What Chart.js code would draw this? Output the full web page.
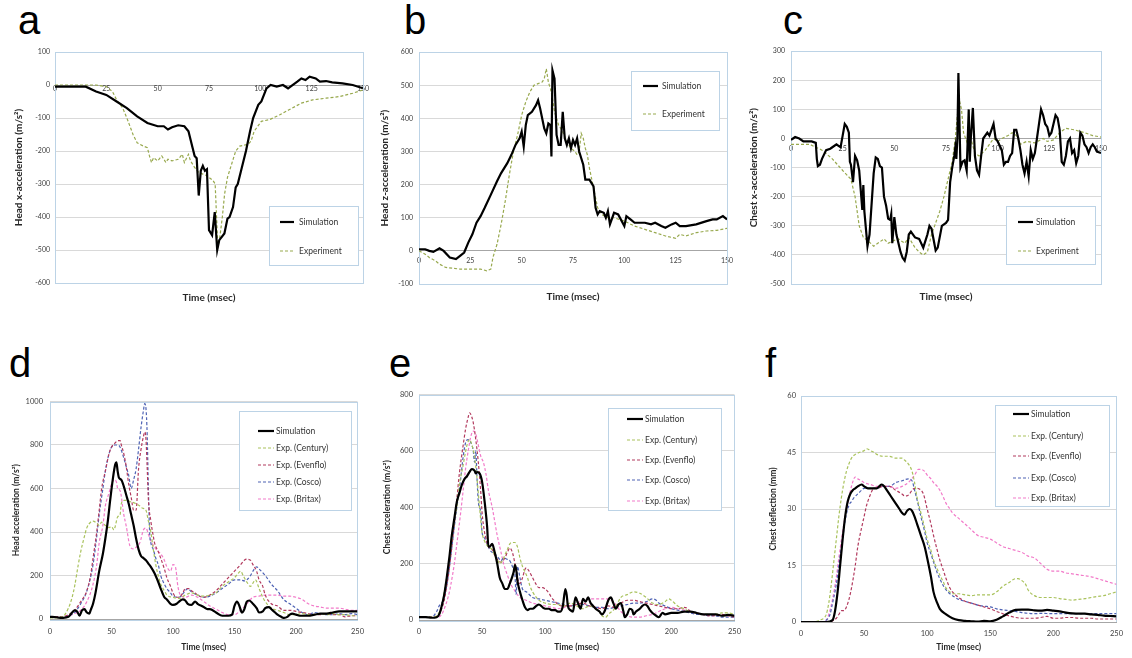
<!DOCTYPE html>
<html>
<head>
<meta charset="utf-8">
<script src="https://cdn.jsdelivr.net/npm/chart.js@4.4.0/dist/chart.umd.min.js"></script>
<style>
  body { margin: 0; background: #fff; width: 1132px; height: 658px; position: relative; overflow: hidden; }
  canvas { position: absolute; }
  .tag { position: absolute; font: 40px "Liberation Sans", Arial, sans-serif; line-height: 40px; color: #000; }
</style>
</head>
<body>
<div class="tag" style="left:18px;top:0px">a</div>
<div class="tag" style="left:404px;top:0px">b</div>
<div class="tag" style="left:783px;top:0px">c</div>
<div class="tag" style="left:9px;top:343px">d</div>
<div class="tag" style="left:389px;top:343px">e</div>
<div class="tag" style="left:765px;top:343px">f</div>
<canvas id="pa"></canvas>
<canvas id="pb"></canvas>
<canvas id="pc"></canvas>
<canvas id="pd"></canvas>
<canvas id="pe"></canvas>
<canvas id="pf"></canvas>
<script>
// ---- a: head x-acceleration ----
const aSimT = [0,5,10,15,20,25,30,35,40,45, 50,53,55,57,60,63,65,67,68,69, 70,71,72,73,74,75,76.5,77.8,79,80, 82.5,84,85,86.7,88,89,91,93,95,96.5, 99,100.5,103,105,108,111,113.5,118,120,122, 124,127,129,132,135,140,145,150];
const aSimV = [-5,-5,-5,-5,-20,-30,-50,-70,-95,-115, -125,-125,-135,-128,-122,-125,-140,-190,-215,-222, -335,-260,-245,-260,-255,-440,-455,-385,-500,-470, -450,-405,-400,-370,-310,-300,-250,-200,-140,-100, -60,-50,-10,0,-5,0,-10,10,20,15, 25,20,10,12,8,5,0,-10];
const aExpT = [0,10,20,25,28,30,33,35,38,40, 43,45,46,47,48,50,52,54,55,57, 60,62,63,65,66,68,70,72,74,76, 77,78,79.3,80,81.5,82.6,84,86,88,90, 94,95.5,97,100.5,104.5,109.5,114,120,125.5,132, 138.5,145,150];
const aExpV = [0,0,0,-5,-20,-45,-70,-100,-150,-175, -185,-190,-215,-235,-220,-230,-215,-235,-225,-230, -225,-210,-235,-210,-230,-250,-265,-270,-275,-285, -290,-300,-490,-475,-400,-330,-280,-240,-200,-185, -180,-170,-140,-110,-105,-90,-75,-55,-45,-40, -35,-25,-15];

// ---- b: head z-acceleration ----
const bSimT = [0,3,5,7,10,12,15,18,20,22, 24,26,28,30,32,35,38,40,43,45, 47,49,50,51,52,53,55,57,58,59, 61,62,63,64,64.5,65,66,67,68,69, 70,71,72,73,74,75,76,77,78,80, 81,83,85,86,87,88,90,91,92,93, 95,97,100,101,103,105,110,113,115,118, 120,123,125,127,130,135,140,143,145,148, 150];
const bSimV = [5,5,0,-3,8,0,-20,-25,-15,-5, 25,50,85,105,130,170,210,235,265,290, 320,340,360,315,380,410,420,440,455,430, 370,355,385,380,285,545,520,350,320,320, 420,340,320,340,310,335,320,340,300,260, 215,215,195,130,110,120,115,100,120,80, 115,110,75,105,95,85,85,80,85,75, 70,80,85,75,75,80,90,95,95,105, 95];
const bExpT = [0,3,5,8,10,13,20,30,33,35, 36,37,38,39,40,42,44,46,48,50, 52,54,56,58,60,61,62,63,64,65, 66,67,68,70,72,74,76,77,78,79, 80,81,82,83,85,87,89,92,95,100, 105,110,115,120,125,127,130,135,140,145, 150];
const bExpV = [0,-10,-20,-30,-40,-50,-55,-55,-60,-55, -20,0,20,50,80,150,230,300,350,410, 450,480,500,505,510,520,550,510,490,460, 420,400,380,360,330,310,300,290,300,355, 340,310,290,250,190,130,110,100,100,90, 75,65,55,45,38,50,45,55,60,62, 68];

// ---- c: chest x-acceleration ----
const cSimT = [0,1,2,4,6,10,12,12.5,13,14, 15,17,19,20,22,23,24,25,26,27, 28,28.5,29,30,31,32,33,34,34.5,35, 35.5,37,38,40,41,42,43,44,45,46, 47,48,48.5,49,50,51,52,53,54,55, 56,57,58,60,62,64,66,67,68,70, 71,73,75,76,77,78,79,79.5,80,80.5, 81,82,83,84,85,86,86.5,87,88,89, 90,91,92,93,95,96,97,98,99,100, 102,103,104,105,106,107,108,109,110,111, 112,113,114,115,116,117,118,119,120,121, 122,123,124,125,126,127,128,129,130,131, 132,133,134,135,136,137,138,139,140,141, 142,143,144,145,146,147,148,150];
const cSimV = [-5,0,5,0,-10,-10,-15,-70,-95,-90, -70,-40,-35,-30,-20,-25,-30,10,50,40, 20,-80,-90,-150,-60,-75,-110,-200,-245,-160, -250,-370,-330,-120,-65,-70,-95,-100,-200,-230, -275,-280,-260,-360,-270,-330,-360,-390,-410,-420, -390,-330,-320,-340,-345,-375,-330,-300,-310,-385, -375,-300,-290,-280,-150,-100,-60,-30,-70,0, 225,-100,-80,-75,-110,100,-80,0,105,-60, -110,-125,-60,0,20,10,30,50,0,-10, -40,-90,-80,-80,-60,-50,30,30,0,-40, -90,-120,-80,-130,-40,-70,-50,0,50,100, 80,50,40,10,20,50,80,70,30,-80, -90,-60,-10,0,-50,-40,-85,-60,20,10, -20,-30,-50,-30,-20,-30,-45,-50];
const cExpT = [0,9,15,20,25,29,31,33,35,37, 40,42,45,47,50,52,55,57,60,62, 64,66,68,70,72,74,76,78,79.5,80.5, 81.5,82.5,83.5,85,86,87,89,91,94,96, 98,100,102,105,107,109,111,114,118,122, 124,127,130,133,137,142,146,150];
const cExpV = [-20,-20,-40,-70,-110,-140,-200,-300,-340,-350, -370,-360,-345,-360,-350,-345,-360,-340,-375,-390, -400,-390,-330,-290,-250,-200,-140,-80,0,80, 130,100,20,-10,30,0,-50,-60,-40,-20, 0,-10,0,10,20,10,-20,-10,-15,0, -10,-5,20,35,30,20,10,5];

// ---- d: head acceleration ----
const dSimT = [0,5,10,15,18,20,22,24,26,28, 30,32,33,35,37,40,43,45,47,49, 51,53,54,55,56,58,60,62,64,66, 68,70,72,74,76,78,80,82,85,88, 90,93,95,98,100,103,105,108,110,112, 115,118,120,125,128,130,135,140,145,148, 150,152,154,156,158,160,162,165,168,170, 173,175,178,180,183,185,188,190,193,195, 197,200,203,205,210,215,220,225,230,235, 240,245,250];
const dSimV = [10,8,5,10,30,40,35,15,40,45, 30,25,40,70,120,220,300,370,450,550, 640,710,720,680,650,640,610,570,530,480, 430,370,320,290,280,270,255,240,210,170, 140,100,90,70,65,70,80,90,85,70, 65,80,70,55,45,45,30,15,15,20, 60,80,60,30,45,80,85,70,50,30, 35,50,55,45,30,20,10,5,10,20, 25,20,15,15,15,20,25,25,30,35, 35,35,35];
const dCentT = [0,10,15,18,20,23,25,28,30,33, 35,38,40,42,45,48,50,52,53,55, 57,58,60,63,65,68,70,73,75,78, 80,82,84,86,88,90,93,95,100,105, 110,115,120,125,130,135,140,145,150,153, 155,157,160,163,165,167,170,173,175,180, 185,190,195,200,205,210,215,220,225,230, 235,240,245,250];
const dCentV = [5,10,50,100,150,250,310,380,420,445, 450,440,430,445,430,420,425,410,425,470, 480,530,545,545,540,535,530,520,510,500, 450,400,320,250,200,160,130,110,100,95, 110,120,110,105,110,120,150,170,190,210, 220,200,170,150,165,180,140,100,80,50, 40,30,20,20,25,20,20,25,20,25, 20,20,15,15];
const dEvenT = [0,10,15,20,25,30,33,35,38,40, 42,45,48,50,53,55,57,58,60,62, 64,66,68,70,72,74,76,77,78,79, 80,82,84,85,88,90,93,95,98,100, 103,105,108,110,113,115,118,120,125,130, 135,140,145,150,155,158,160,163,165,168, 170,173,175,180,185,190,195,200,205,210, 215,220,225,230,235,240,245,250];
const dEvenV = [10,10,20,40,80,130,200,280,400,500, 600,680,760,790,810,820,820,800,760,700, 620,560,500,500,690,780,840,860,830,700, 550,450,380,350,310,280,230,190,150,120, 100,100,120,140,140,130,120,110,100,110, 130,160,190,220,250,270,275,270,250,220, 180,150,110,70,60,40,40,35,30,25, 20,20,25,20,20,10,15,15];
const dCoscoT = [0,10,15,20,25,30,35,38,40,43, 45,48,50,53,55,57,60,62,64,66, 68,70,72,74,76,77,78,79,80,81, 82,84,86,88,90,93,95,98,100,105, 110,112,115,120,125,130,135,140,145,150, 155,158,160,163,165,168,170,175,180,185, 190,195,200,205,210,215,220,225,230,235, 240,245,250];
const dCoscoV = [10,10,15,30,70,130,250,380,480,600, 680,760,790,800,800,790,740,700,660,600, 640,690,780,880,960,990,970,850,600,400, 350,320,280,250,200,160,140,120,105,100, 130,140,125,110,100,105,120,140,160,180, 180,175,180,200,220,240,230,200,160,130, 90,70,50,30,20,30,25,20,20,25, 20,25,20];
const dBritT = [0,10,15,20,25,30,35,38,40,43, 45,48,50,52,54,55,57,60,62,65, 68,70,73,76,78,80,82,85,88,90, 93,95,98,100,102,104,106,110,115,120, 125,130,135,140,145,150,155,160,165,170, 175,180,185,190,195,200,205,210,215,220, 225,230,235,240,245,250];
const dBritV = [10,10,15,25,40,80,160,250,350,430, 520,580,620,640,630,600,590,480,427,336, 322,330,350,410,418,390,360,330,310,300, 270,240,220,250,240,150,110,100,110,100, 80,60,45,30,20,20,40,70,100,105, 110,110,110,105,105,100,90,70,60,55, 50,50,50,45,40,40];

// ---- e: chest acceleration ----
const eSimT = [0,5,10,14,16,18,20,22,24,26, 28,30,32,34,36,38,40,42,44,45, 46,48,50,52,54,55,56,58,60,62, 64,66,68,70,72,74,75,76,77,78, 80,82,84,86,88,90,93,95,98,100, 103,105,108,110,112,114,116,117,118,120, 122,124,126,128,130,132,134,136,138,140, 143,145,147,150,152,154,156,158,160,162, 163,165,167,169,170,172,175,177,179,181, 183,185,188,190,193,195,200,205,210,215, 220,225,230,235,240,245,250];
const eSimV = [10,10,8,10,20,50,90,150,220,300, 360,420,450,480,500,510,525,535,530,520, 525,520,490,420,330,260,260,270,240,200, 150,130,110,110,130,155,170,195,180,140, 100,70,45,35,40,40,50,55,45,40, 40,35,35,30,30,50,110,90,50,35, 30,80,60,40,75,65,80,60,50,40, 30,20,30,70,80,60,40,55,60,30, 10,20,40,35,20,30,40,50,55,50, 35,25,15,10,25,20,25,25,30,30, 25,20,20,20,15,18,15];
const eCentT = [0,10,15,18,20,23,25,28,30,32, 35,37,38,40,42,44,46,48,50,52, 55,58,60,62,64,66,68,70,72,74, 76,78,80,82,84,86,88,90,93,95, 100,105,110,115,120,125,130,135,140,143, 145,148,150,155,160,165,170,175,180,185, 190,195,198,200,205,210,215,220,225,230, 235,240,245,250];
const eCentV = [10,10,20,50,100,180,250,350,400,480, 550,600,620,640,620,580,500,400,310,280, 260,250,230,215,200,210,230,250,270,275, 275,260,220,190,170,150,120,100,80,70, 60,55,55,50,60,50,40,50,40,30, 15,10,20,40,80,90,100,95,80,60, 55,65,75,70,50,40,30,25,20,20, 20,25,25,20];
const eEvenT = [0,10,15,18,20,23,25,28,30,32, 35,37,39,40,41,43,45,47,49,50, 52,53,55,58,60,63,65,68,70,72, 74,76,78,80,82,84,85,87,90,93, 95,98,100,103,105,108,110,115,120,125, 130,135,140,145,150,155,160,165,170,175, 180,185,190,195,200,205,210,213,215,220, 225,230,235,240,245,250];
const eEvenV = [10,10,15,40,70,150,220,340,430,520, 620,680,720,735,730,700,640,560,450,380, 310,290,260,250,230,210,205,220,240,255, 240,200,150,130,150,180,185,175,150,125, 115,115,110,95,80,65,55,50,50,55, 60,50,45,40,50,45,60,70,70,65, 60,55,50,45,40,40,45,40,30,25, 20,15,15,20,15,10];
const eCoscoT = [0,10,14,16,18,20,23,25,28,30, 33,35,37,39,41,43,44,45,46,47, 49,50,52,54,56,58,60,63,65,67, 70,72,74,76,77,78,80,82,85,90, 95,100,105,110,115,120,125,130,135,140, 145,150,155,160,165,170,175,180,185,188, 190,195,200,205,210,215,220,225,230,235, 240,245,250];
const eCoscoV = [10,10,30,50,60,80,150,220,330,400, 500,580,630,640,630,600,560,600,500,420, 380,310,290,270,250,240,235,220,210,220, 215,210,190,160,90,190,150,110,100,80, 75,70,65,60,55,50,55,55,50,45, 45,40,45,50,55,60,60,65,75,70, 60,50,40,35,30,25,20,20,15,15, 10,10,10];
const eBritT = [0,10,15,18,20,23,25,28,30,33, 35,37,39,41,43,45,47,49,51,53, 55,58,60,62,65,67,70,73,75,78, 80,85,90,95,100,105,110,115,120,125, 130,135,140,145,150,155,160,165,170,175, 180,185,190,195,200,205,210,215,220,225, 230,235,240,245,250];
const eBritV = [10,10,10,20,40,80,120,200,270,380, 460,540,600,650,670,660,620,580,560,520, 460,400,350,300,240,200,160,125,110,90, 80,70,60,55,50,45,40,45,50,60, 70,75,75,75,75,60,30,15,10,10, 15,20,30,40,45,40,35,30,25,20, 15,15,15,15,15];

// ---- f: chest deflection ----
const fSimT = [0,10,20,25,27,29,31,33,35,37, 39,41,43,45,48,50,53,55,58,60, 62,64,66,68,70,73,75,78,80,82, 84,86,88,90,92,95,98,100,103,105, 108,110,115,120,125,130,135,140,145,150, 155,160,165,170,175,180,185,190,195,200, 205,210,215,220,225,230,235,240,245,250];
const fSimV = [0,0,0,0.5,3,8,15,22,28,32, 34,35,35.5,36,36.5,36,35.5,35.5,35.5,35.5, 36,36.5,36,35,34,32.5,31.5,30,29,28.5, 29.5,30,29.5,28,26,23,20,17,12,8, 5,3.5,2,1,0.5,0.3,0.2,0.1,0.3,0.2, 0.6,1.5,2.5,3.2,3.3,3.3,3.1,3.0,3.2,3.0, 2.8,2.5,2.3,2.2,2.2,2.0,1.9,1.7,1.6,1.5];
const fCentT = [0,10,15,18,20,22,24,26,28,30, 32,34,36,38,40,43,46,50,52,55, 58,60,65,70,75,80,82,85,88,90, 92,95,98,100,103,105,108,110,113,115, 118,120,125,130,135,140,145,150,155,160, 165,170,172,175,178,180,185,190,195,200, 205,210,215,220,225,230,235,240,245,250];
const fCentV = [0,0,0.5,1,2,5,10,16,22,28, 33,37,40,42,43.5,44.5,45,45.5,46,45.5, 45,44.5,44,44,43.5,43.5,43,42,40,37, 33,29,25,22,19,16.5,14,12.5,10.5,9, 8,7.5,7.5,7.2,7,7.2,7.2,7.2,8,9.5, 10.5,11.5,11.5,11,10,8.5,7,6.5,6.5,6.5, 6.2,6,5.8,6,6.2,6.5,6.8,7,7.5,8];
const fEvenT = [0,20,25,28,30,32,34,36,38,40, 43,45,48,50,52,54,58,60,65,70, 75,80,82,84,86,88,90,92,95,97, 100,103,105,108,110,113,115,118,120,125, 130,135,140,145,150,155,160,165,170,175, 180,185,190,195,200,205,210,215,220,225, 230,235,240,245,250];
const fEvenV = [0,0,0.3,1,2,3,3,4,6,9, 15,20,25,28,31,33,35.5,35.5,36,36, 35,34,33.5,33.5,34,35,35.5,35.5,35,34, 30,26,23,19,16.5,13.5,11.5,9,8,6.5, 5.5,5,4.5,4,3.5,2.8,2.2,1.6,1.2,1, 1,1,1.2,1.5,1,1,1.2,1.2,1,1, 1,0.8,0.8,0.8,0.8];
const fCoscoT = [0,15,20,23,25,28,30,33,35,38, 40,42,45,48,50,55,60,65,70,75, 80,85,88,90,93,95,98,100,103,105, 108,110,113,115,118,120,125,130,135,140, 145,150,155,160,165,170,175,180,185,190, 200,210,220,230,240,250];
const fCoscoV = [0,0,0.5,2,5,10,15,22,27,31, 32,33,34,35,35.5,35.5,35.5,36,36,37, 37.5,38,37.5,35,31,28,24,21,18,16, 13,11.5,9.5,8.5,7.5,7,6,5.5,5,4.5, 4.2,4,3.5,3.2,3,2.8,2.5,2.3,2.2,2.3, 2.2,2.2,2.2,2.2,2.2,2.2];
const fBritT = [0,15,20,22,25,28,30,33,35,38, 40,43,45,48,50,55,60,65,70,75, 80,85,90,93,95,98,100,103,105,108, 110,113,115,118,120,125,130,135,140,145, 150,155,160,165,170,175,180,185,190,195, 200,205,210,215,220,225,230,235,240,245, 250];
const fBritV = [0,0,0.5,2,6,12,17,24,28,33, 36,38.5,38,37.5,37,36.5,36,36,36,35.5, 36,37,39,40.5,40.5,40,39,38,37,36, 35,33,31.5,30,29,27.5,26,24.5,23,22.5, 22,21,20,19.5,19,18.5,17.5,17,15.5,14, 13.5,13.5,13,12.8,12.5,12.3,12,11.5,11,10.5, 10];

// line styles
const STYLES = {
  'Simulation':     { borderColor: '#000000', borderWidth: 2.2, borderDash: [] },
  'Experiment':     { borderColor: '#98A94E', borderWidth: 1.2, borderDash: [3, 2] },
  'Exp. (Century)': { borderColor: '#A9C25C', borderWidth: 1.2, borderDash: [3, 2] },
  'Exp. (Evenflo)': { borderColor: '#B23A5E', borderWidth: 1.2, borderDash: [3, 2] },
  'Exp. (Cosco)':   { borderColor: '#4E62B4', borderWidth: 1.2, borderDash: [3, 2] },
  'Exp. (Britax)':  { borderColor: '#F27AC9', borderWidth: 1.2, borderDash: [3, 2] }
};

const FONT = 'Lato';
const FRAME = '#BCD3E6';
const AXIS = '#A6A6A6';

function pts(t, v) {
  return t.map((x, i) => ({ x: x, y: v[i] }));
}

// plain numbers on the ticks (no thousands separator)
const plain = v => String(v);

// plot frame behind the lines, boxed legend on top of them
const frameLegend = {
  id: 'frameLegend',
  beforeDatasetsDraw(chart, args, o) {
    const { ctx, chartArea: a } = chart;
    ctx.save();
    ctx.strokeStyle = FRAME;
    ctx.lineWidth = 1;
    ctx.strokeRect(Math.round(a.left) + 0.5, Math.round(a.top) + 0.5,
                   Math.round(a.right - a.left), Math.round(a.bottom - a.top));
    if (o.bottomAxis) {
      ctx.strokeStyle = AXIS;
      ctx.beginPath();
      ctx.moveTo(Math.round(a.left), Math.round(a.bottom) + 0.5);
      ctx.lineTo(Math.round(a.right) + 1, Math.round(a.bottom) + 0.5);
      ctx.stroke();
    }
    ctx.restore();
  },
  afterDatasetsDraw(chart, args, o) {
    const { ctx } = chart;
    const [bx, by, bw, bh] = o.box;
    ctx.save();
    ctx.fillStyle = '#ffffff';
    ctx.fillRect(bx, by, bw, bh);
    ctx.strokeStyle = FRAME;
    ctx.lineWidth = 1;
    ctx.strokeRect(bx + 0.5, by + 0.5, bw, bh);
    ctx.font = o.size + 'px ' + FONT;
    ctx.textBaseline = 'middle';
    chart.data.datasets.forEach((ds, i) => {
      const y = o.rows[i];
      ctx.strokeStyle = ds.borderColor;
      ctx.lineWidth = ds.borderWidth;
      ctx.setLineDash(ds.borderDash);
      ctx.beginPath();
      ctx.moveTo(o.x0, y);
      ctx.lineTo(o.x1, y);
      ctx.stroke();
      ctx.setLineDash([]);
      ctx.fillStyle = '#333333';
      ctx.fillText(ds.label, o.tx, y);
    });
    ctx.restore();
  }
};

function buildPanel(p) {
  const cv = document.getElementById(p.id);
  const [cl, ct, cw, ch] = p.canvas;
  const [L, T, R, B] = p.plot;
  cv.width = cw; cv.height = ch;
  cv.style.left = cl + 'px'; cv.style.top = ct + 'px';
  cv.style.width = cw + 'px'; cv.style.height = ch + 'px';

  const yW = L - cl;
  const xH = ct + ch - B;
  const tickFont = { family: FONT, size: p.tickSize };
  const titleFont = { family: FONT, size: p.titleSize, weight: 'bold' };

  const scales = {
    x: {
      type: 'linear', min: 0, max: p.xMax, position: 'bottom',
      afterFit: s => { s.height = xH; },
      grid: { display: false, drawTicks: false },
      border: { display: false },
      ticks: { display: !p.zeroAxis, stepSize: p.xStep, padding: p.xTickPad, font: tickFont, color: '#404040', maxRotation: 0, callback: plain },
      title: { display: true, text: 'Time (msec)', font: titleFont, color: '#262626', padding: { top: 0, bottom: p.xTitlePad } }
    },
    y: {
      min: p.yMin, max: p.yMax,
      afterFit: s => { s.width = yW; },
      grid: { color: '#D9D9D9', drawTicks: false },
      border: { display: false },
      ticks: { stepSize: p.yStep, padding: p.yTickPad, font: tickFont, color: '#404040', callback: plain },
      title: { display: true, text: p.yTitle, font: titleFont, color: '#262626', padding: { top: p.yTitlePad, bottom: 0 } }
    }
  };
  if (p.zeroAxis) {
    scales.x0 = {
      type: 'linear', min: 0, max: p.xMax, position: { y: 0 },
      grid: { display: false, drawTicks: false },
      border: { display: true, color: AXIS, width: 1 },
      ticks: { stepSize: p.xStep, padding: p.xTickPad, font: tickFont, color: '#404040', maxRotation: 0, callback: plain }
    };
  }

  const datasets = p.series.map(s => Object.assign({
    label: s.label,
    data: pts(s.t, s.v),
    pointRadius: 0,
    fill: false,
    tension: 0,
    cubicInterpolationMode: p.smooth ? 'monotone' : 'default'
  }, STYLES[s.label]));

  const lg = p.legend;
  new Chart(cv, {
    type: 'line',
    data: { datasets: datasets },
    options: {
      responsive: false,
      animation: false,
      devicePixelRatio: 1,
      layout: { padding: { left: 0, top: T - ct, right: cl + cw - R, bottom: 0 } },
      scales: scales,
      plugins: {
        legend: { display: false },
        tooltip: { enabled: false },
        frameLegend: {
          bottomAxis: !p.zeroAxis,
          box: [lg.box[0] - cl, lg.box[1] - ct, lg.box[2], lg.box[3]],
          rows: lg.rows.map(y => y - ct),
          x0: lg.x0 - cl, x1: lg.x1 - cl, tx: lg.tx - cl,
          size: lg.size
        }
      }
    },
    plugins: [frameLegend]
  });
}

Chart.defaults.font.family = FONT;

const panels = [
  {
    id: 'pa', canvas: [0, 42, 375, 264], plot: [55, 52, 363, 283],
    xMax: 150, xStep: 25, yMin: -600, yMax: 100, yStep: 100, zeroAxis: true, smooth: false,
    yTitle: 'Head x-acceleration (m/s²)', tickSize: 7, titleSize: 10,
    xTickPad: 0, xTitlePad: 2, yTickPad: 5, yTitlePad: 13,
    series: [
      { label: 'Simulation', t: aSimT, v: aSimV },
      { label: 'Experiment', t: aExpT, v: aExpV }
    ],
    legend: { box: [269, 206, 89, 59], rows: [222, 251], x0: 280, x1: 294, tx: 299, size: 8.5 }
  },
  {
    id: 'pb', canvas: [375, 42, 365, 264], plot: [419, 52, 727, 284],
    xMax: 150, xStep: 25, yMin: -100, yMax: 600, yStep: 100, zeroAxis: true, smooth: false,
    yTitle: 'Head z-acceleration (m/s²)', tickSize: 7, titleSize: 10,
    xTickPad: 6, xTitlePad: 3, yTickPad: 6, yTitlePad: 3.5,
    series: [
      { label: 'Simulation', t: bSimT, v: bSimV },
      { label: 'Experiment', t: bExpT, v: bExpV }
    ],
    legend: { box: [631, 71, 88, 59], rows: [86, 114], x0: 643, x1: 658, tx: 662, size: 8.5 }
  },
  {
    id: 'pc', canvas: [745, 41, 370, 265], plot: [791, 51, 1101, 284],
    xMax: 150, xStep: 25, yMin: -500, yMax: 300, yStep: 100, zeroAxis: true, smooth: false,
    yTitle: 'Chest x-acceleration (m/s²)', tickSize: 7, titleSize: 10,
    xTickPad: 6, xTitlePad: 3, yTickPad: 6, yTitlePad: 3,
    series: [
      { label: 'Simulation', t: cSimT, v: cSimV },
      { label: 'Experiment', t: cExpT, v: cExpV }
    ],
    legend: { box: [1006, 206, 89, 58], rows: [222, 251], x0: 1018, x1: 1033, tx: 1036, size: 8.5 }
  },
  {
    id: 'pd', canvas: [0, 390, 372, 268], plot: [50, 400, 363, 619],
    xMax: 250, xStep: 50, yMin: 0, yMax: 1000, yStep: 200, zeroAxis: false, smooth: true,
    yTitle: 'Head acceleration (m/s²)', tickSize: 7.5, titleSize: 8.5,
    xTickPad: 8, xTitlePad: 6, yTickPad: 7, yTitlePad: 11,
    series: [
      { label: 'Simulation', t: dSimT, v: dSimV },
      { label: 'Exp. (Century)', t: dCentT, v: dCentV },
      { label: 'Exp. (Evenflo)', t: dEvenT, v: dEvenV },
      { label: 'Exp. (Cosco)', t: dCoscoT, v: dCoscoV },
      { label: 'Exp. (Britax)', t: dBritT, v: dBritV }
    ],
    legend: { box: [239, 411, 112, 99], rows: [431, 448, 465, 482, 499], x0: 258, x1: 274, tx: 276, size: 8.5 }
  },
  {
    id: 'pe', canvas: [376, 384, 372, 274], plot: [419, 394, 737, 620],
    xMax: 250, xStep: 50, yMin: 0, yMax: 800, yStep: 200, zeroAxis: false, smooth: true,
    yTitle: 'Chest acceleration (m/s²)', tickSize: 7.5, titleSize: 8.5,
    xTickPad: 7, xTitlePad: 6, yTickPad: 6, yTitlePad: 6.5,
    series: [
      { label: 'Simulation', t: eSimT, v: eSimV },
      { label: 'Exp. (Century)', t: eCentT, v: eCentV },
      { label: 'Exp. (Evenflo)', t: eEvenT, v: eEvenV },
      { label: 'Exp. (Cosco)', t: eCoscoT, v: eCoscoV },
      { label: 'Exp. (Britax)', t: eBritT, v: eBritV }
    ],
    legend: { box: [608, 408, 113, 102], rows: [419, 440, 460, 480, 501], x0: 627, x1: 643, tx: 645, size: 8.5 }
  },
  {
    id: 'pf', canvas: [758, 386, 372, 272], plot: [801, 396, 1121, 622],
    xMax: 250, xStep: 50, yMin: 0, yMax: 60, yStep: 15, zeroAxis: false, smooth: true,
    yTitle: 'Chest deflection (mm)', tickSize: 7.5, titleSize: 8.5,
    xTickPad: 7, xTitlePad: 6, yTickPad: 5, yTitlePad: 10,
    series: [
      { label: 'Simulation', t: fSimT, v: fSimV },
      { label: 'Exp. (Century)', t: fCentT, v: fCentV },
      { label: 'Exp. (Evenflo)', t: fEvenT, v: fEvenV },
      { label: 'Exp. (Cosco)', t: fCoscoT, v: fCoscoV },
      { label: 'Exp. (Britax)', t: fBritT, v: fBritV }
    ],
    legend: { box: [995, 405, 114, 101], rows: [414, 436, 456, 478, 498], x0: 1013, x1: 1029, tx: 1031, size: 8.5 }
  }
];

panels.forEach(buildPanel);
</script>
</body>
</html>
